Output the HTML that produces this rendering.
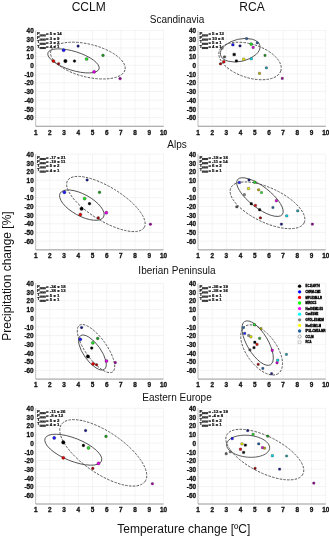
<!DOCTYPE html><html><head><meta charset="utf-8"><style>html,body{margin:0;padding:0;background:#fff;width:329px;height:537px;overflow:hidden}svg{display:block;will-change:transform}</style></head><body><svg width="329" height="537" viewBox="0 0 329 537">
<style>.tk{font-family:"Liberation Sans",sans-serif;font-weight:bold;font-size:6.4px;fill:#111;stroke:#111;stroke-width:0.3}.t12{font-family:"Liberation Sans",sans-serif;font-size:12px;fill:#111}.lg{font-family:"Liberation Sans",sans-serif;font-weight:bold;font-size:4.3px;fill:#111;stroke:#111;stroke-width:0.22}.lg3{font-family:"Liberation Sans",sans-serif;font-weight:bold;font-size:2.75px;fill:#000;stroke:#000;stroke-width:0.3}.lgs{font-family:"Liberation Sans",sans-serif;font-weight:bold;font-size:2.5px;fill:#111;stroke:#111;stroke-width:0.3}.t10{font-family:"Liberation Sans",sans-serif;font-size:10px;fill:#111}</style>
<rect width="329" height="537" fill="#fff"/>
<line x1="49.90" y1="30.56" x2="49.90" y2="126.26" stroke="#ececec" stroke-width="0.6"/>
<line x1="64.10" y1="30.56" x2="64.10" y2="126.26" stroke="#ececec" stroke-width="0.6"/>
<line x1="78.30" y1="30.56" x2="78.30" y2="126.26" stroke="#ececec" stroke-width="0.6"/>
<line x1="92.50" y1="30.56" x2="92.50" y2="126.26" stroke="#ececec" stroke-width="0.6"/>
<line x1="106.70" y1="30.56" x2="106.70" y2="126.26" stroke="#ececec" stroke-width="0.6"/>
<line x1="120.90" y1="30.56" x2="120.90" y2="126.26" stroke="#ececec" stroke-width="0.6"/>
<line x1="135.10" y1="30.56" x2="135.10" y2="126.26" stroke="#ececec" stroke-width="0.6"/>
<line x1="149.30" y1="30.56" x2="149.30" y2="126.26" stroke="#ececec" stroke-width="0.6"/>
<line x1="163.50" y1="30.56" x2="163.50" y2="126.26" stroke="#ececec" stroke-width="0.6"/>
<line x1="35.70" y1="30.56" x2="163.50" y2="30.56" stroke="#ececec" stroke-width="0.6"/>
<line x1="35.70" y1="39.26" x2="163.50" y2="39.26" stroke="#ececec" stroke-width="0.6"/>
<line x1="35.70" y1="47.96" x2="163.50" y2="47.96" stroke="#ececec" stroke-width="0.6"/>
<line x1="35.70" y1="56.66" x2="163.50" y2="56.66" stroke="#ececec" stroke-width="0.6"/>
<line x1="35.70" y1="65.36" x2="163.50" y2="65.36" stroke="#ececec" stroke-width="0.6"/>
<line x1="35.70" y1="74.06" x2="163.50" y2="74.06" stroke="#ececec" stroke-width="0.6"/>
<line x1="35.70" y1="82.76" x2="163.50" y2="82.76" stroke="#ececec" stroke-width="0.6"/>
<line x1="35.70" y1="91.46" x2="163.50" y2="91.46" stroke="#ececec" stroke-width="0.6"/>
<line x1="35.70" y1="100.16" x2="163.50" y2="100.16" stroke="#ececec" stroke-width="0.6"/>
<line x1="35.70" y1="108.86" x2="163.50" y2="108.86" stroke="#ececec" stroke-width="0.6"/>
<line x1="35.70" y1="117.56" x2="163.50" y2="117.56" stroke="#ececec" stroke-width="0.6"/>
<line x1="35.70" y1="30.56" x2="35.70" y2="126.26" stroke="#b8b8b8" stroke-width="0.9"/>
<line x1="35.70" y1="126.26" x2="163.50" y2="126.26" stroke="#8a8a8a" stroke-width="0.9"/>
<text x="33.70" y="33.26" text-anchor="end" class="tk">40</text>
<text x="33.70" y="41.96" text-anchor="end" class="tk">30</text>
<text x="33.70" y="50.66" text-anchor="end" class="tk">20</text>
<text x="33.70" y="59.36" text-anchor="end" class="tk">10</text>
<text x="33.70" y="68.06" text-anchor="end" class="tk">0</text>
<text x="33.70" y="76.76" text-anchor="end" class="tk">-10</text>
<text x="33.70" y="85.46" text-anchor="end" class="tk">-20</text>
<text x="33.70" y="94.16" text-anchor="end" class="tk">-30</text>
<text x="33.70" y="102.86" text-anchor="end" class="tk">-40</text>
<text x="33.70" y="111.56" text-anchor="end" class="tk">-50</text>
<text x="33.70" y="120.26" text-anchor="end" class="tk">-60</text>
<text x="35.70" y="134.66" text-anchor="middle" class="tk">1</text>
<text x="49.90" y="134.66" text-anchor="middle" class="tk">2</text>
<text x="64.10" y="134.66" text-anchor="middle" class="tk">3</text>
<text x="78.30" y="134.66" text-anchor="middle" class="tk">4</text>
<text x="92.50" y="134.66" text-anchor="middle" class="tk">5</text>
<text x="106.70" y="134.66" text-anchor="middle" class="tk">6</text>
<text x="120.90" y="134.66" text-anchor="middle" class="tk">7</text>
<text x="135.10" y="134.66" text-anchor="middle" class="tk">8</text>
<text x="149.30" y="134.66" text-anchor="middle" class="tk">9</text>
<text x="163.50" y="134.66" text-anchor="middle" class="tk">10</text>
<line x1="212.19" y1="30.56" x2="212.19" y2="126.26" stroke="#ececec" stroke-width="0.6"/>
<line x1="226.38" y1="30.56" x2="226.38" y2="126.26" stroke="#ececec" stroke-width="0.6"/>
<line x1="240.57" y1="30.56" x2="240.57" y2="126.26" stroke="#ececec" stroke-width="0.6"/>
<line x1="254.76" y1="30.56" x2="254.76" y2="126.26" stroke="#ececec" stroke-width="0.6"/>
<line x1="268.95" y1="30.56" x2="268.95" y2="126.26" stroke="#ececec" stroke-width="0.6"/>
<line x1="283.14" y1="30.56" x2="283.14" y2="126.26" stroke="#ececec" stroke-width="0.6"/>
<line x1="297.33" y1="30.56" x2="297.33" y2="126.26" stroke="#ececec" stroke-width="0.6"/>
<line x1="311.52" y1="30.56" x2="311.52" y2="126.26" stroke="#ececec" stroke-width="0.6"/>
<line x1="325.71" y1="30.56" x2="325.71" y2="126.26" stroke="#ececec" stroke-width="0.6"/>
<line x1="198.00" y1="30.56" x2="325.71" y2="30.56" stroke="#ececec" stroke-width="0.6"/>
<line x1="198.00" y1="39.26" x2="325.71" y2="39.26" stroke="#ececec" stroke-width="0.6"/>
<line x1="198.00" y1="47.96" x2="325.71" y2="47.96" stroke="#ececec" stroke-width="0.6"/>
<line x1="198.00" y1="56.66" x2="325.71" y2="56.66" stroke="#ececec" stroke-width="0.6"/>
<line x1="198.00" y1="65.36" x2="325.71" y2="65.36" stroke="#ececec" stroke-width="0.6"/>
<line x1="198.00" y1="74.06" x2="325.71" y2="74.06" stroke="#ececec" stroke-width="0.6"/>
<line x1="198.00" y1="82.76" x2="325.71" y2="82.76" stroke="#ececec" stroke-width="0.6"/>
<line x1="198.00" y1="91.46" x2="325.71" y2="91.46" stroke="#ececec" stroke-width="0.6"/>
<line x1="198.00" y1="100.16" x2="325.71" y2="100.16" stroke="#ececec" stroke-width="0.6"/>
<line x1="198.00" y1="108.86" x2="325.71" y2="108.86" stroke="#ececec" stroke-width="0.6"/>
<line x1="198.00" y1="117.56" x2="325.71" y2="117.56" stroke="#ececec" stroke-width="0.6"/>
<line x1="198.00" y1="30.56" x2="198.00" y2="126.26" stroke="#b8b8b8" stroke-width="0.9"/>
<line x1="198.00" y1="126.26" x2="325.71" y2="126.26" stroke="#8a8a8a" stroke-width="0.9"/>
<text x="196.00" y="33.26" text-anchor="end" class="tk">40</text>
<text x="196.00" y="41.96" text-anchor="end" class="tk">30</text>
<text x="196.00" y="50.66" text-anchor="end" class="tk">20</text>
<text x="196.00" y="59.36" text-anchor="end" class="tk">10</text>
<text x="196.00" y="68.06" text-anchor="end" class="tk">0</text>
<text x="196.00" y="76.76" text-anchor="end" class="tk">-10</text>
<text x="196.00" y="85.46" text-anchor="end" class="tk">-20</text>
<text x="196.00" y="94.16" text-anchor="end" class="tk">-30</text>
<text x="196.00" y="102.86" text-anchor="end" class="tk">-40</text>
<text x="196.00" y="111.56" text-anchor="end" class="tk">-50</text>
<text x="196.00" y="120.26" text-anchor="end" class="tk">-60</text>
<text x="198.00" y="134.66" text-anchor="middle" class="tk">1</text>
<text x="212.19" y="134.66" text-anchor="middle" class="tk">2</text>
<text x="226.38" y="134.66" text-anchor="middle" class="tk">3</text>
<text x="240.57" y="134.66" text-anchor="middle" class="tk">4</text>
<text x="254.76" y="134.66" text-anchor="middle" class="tk">5</text>
<text x="268.95" y="134.66" text-anchor="middle" class="tk">6</text>
<text x="283.14" y="134.66" text-anchor="middle" class="tk">7</text>
<text x="297.33" y="134.66" text-anchor="middle" class="tk">8</text>
<text x="311.52" y="134.66" text-anchor="middle" class="tk">9</text>
<text x="325.71" y="134.66" text-anchor="middle" class="tk">10</text>
<line x1="49.90" y1="154.16" x2="49.90" y2="249.86" stroke="#ececec" stroke-width="0.6"/>
<line x1="64.10" y1="154.16" x2="64.10" y2="249.86" stroke="#ececec" stroke-width="0.6"/>
<line x1="78.30" y1="154.16" x2="78.30" y2="249.86" stroke="#ececec" stroke-width="0.6"/>
<line x1="92.50" y1="154.16" x2="92.50" y2="249.86" stroke="#ececec" stroke-width="0.6"/>
<line x1="106.70" y1="154.16" x2="106.70" y2="249.86" stroke="#ececec" stroke-width="0.6"/>
<line x1="120.90" y1="154.16" x2="120.90" y2="249.86" stroke="#ececec" stroke-width="0.6"/>
<line x1="135.10" y1="154.16" x2="135.10" y2="249.86" stroke="#ececec" stroke-width="0.6"/>
<line x1="149.30" y1="154.16" x2="149.30" y2="249.86" stroke="#ececec" stroke-width="0.6"/>
<line x1="163.50" y1="154.16" x2="163.50" y2="249.86" stroke="#ececec" stroke-width="0.6"/>
<line x1="35.70" y1="154.16" x2="163.50" y2="154.16" stroke="#ececec" stroke-width="0.6"/>
<line x1="35.70" y1="162.86" x2="163.50" y2="162.86" stroke="#ececec" stroke-width="0.6"/>
<line x1="35.70" y1="171.56" x2="163.50" y2="171.56" stroke="#ececec" stroke-width="0.6"/>
<line x1="35.70" y1="180.26" x2="163.50" y2="180.26" stroke="#ececec" stroke-width="0.6"/>
<line x1="35.70" y1="188.96" x2="163.50" y2="188.96" stroke="#ececec" stroke-width="0.6"/>
<line x1="35.70" y1="197.66" x2="163.50" y2="197.66" stroke="#ececec" stroke-width="0.6"/>
<line x1="35.70" y1="206.36" x2="163.50" y2="206.36" stroke="#ececec" stroke-width="0.6"/>
<line x1="35.70" y1="215.06" x2="163.50" y2="215.06" stroke="#ececec" stroke-width="0.6"/>
<line x1="35.70" y1="223.76" x2="163.50" y2="223.76" stroke="#ececec" stroke-width="0.6"/>
<line x1="35.70" y1="232.46" x2="163.50" y2="232.46" stroke="#ececec" stroke-width="0.6"/>
<line x1="35.70" y1="241.16" x2="163.50" y2="241.16" stroke="#ececec" stroke-width="0.6"/>
<line x1="35.70" y1="154.16" x2="35.70" y2="249.86" stroke="#b8b8b8" stroke-width="0.9"/>
<line x1="35.70" y1="249.86" x2="163.50" y2="249.86" stroke="#8a8a8a" stroke-width="0.9"/>
<text x="33.70" y="156.86" text-anchor="end" class="tk">40</text>
<text x="33.70" y="165.56" text-anchor="end" class="tk">30</text>
<text x="33.70" y="174.26" text-anchor="end" class="tk">20</text>
<text x="33.70" y="182.96" text-anchor="end" class="tk">10</text>
<text x="33.70" y="191.66" text-anchor="end" class="tk">0</text>
<text x="33.70" y="200.36" text-anchor="end" class="tk">-10</text>
<text x="33.70" y="209.06" text-anchor="end" class="tk">-20</text>
<text x="33.70" y="217.76" text-anchor="end" class="tk">-30</text>
<text x="33.70" y="226.46" text-anchor="end" class="tk">-40</text>
<text x="33.70" y="235.16" text-anchor="end" class="tk">-50</text>
<text x="33.70" y="243.86" text-anchor="end" class="tk">-60</text>
<text x="35.70" y="258.26" text-anchor="middle" class="tk">1</text>
<text x="49.90" y="258.26" text-anchor="middle" class="tk">2</text>
<text x="64.10" y="258.26" text-anchor="middle" class="tk">3</text>
<text x="78.30" y="258.26" text-anchor="middle" class="tk">4</text>
<text x="92.50" y="258.26" text-anchor="middle" class="tk">5</text>
<text x="106.70" y="258.26" text-anchor="middle" class="tk">6</text>
<text x="120.90" y="258.26" text-anchor="middle" class="tk">7</text>
<text x="135.10" y="258.26" text-anchor="middle" class="tk">8</text>
<text x="149.30" y="258.26" text-anchor="middle" class="tk">9</text>
<text x="163.50" y="258.26" text-anchor="middle" class="tk">10</text>
<line x1="212.19" y1="154.16" x2="212.19" y2="249.86" stroke="#ececec" stroke-width="0.6"/>
<line x1="226.38" y1="154.16" x2="226.38" y2="249.86" stroke="#ececec" stroke-width="0.6"/>
<line x1="240.57" y1="154.16" x2="240.57" y2="249.86" stroke="#ececec" stroke-width="0.6"/>
<line x1="254.76" y1="154.16" x2="254.76" y2="249.86" stroke="#ececec" stroke-width="0.6"/>
<line x1="268.95" y1="154.16" x2="268.95" y2="249.86" stroke="#ececec" stroke-width="0.6"/>
<line x1="283.14" y1="154.16" x2="283.14" y2="249.86" stroke="#ececec" stroke-width="0.6"/>
<line x1="297.33" y1="154.16" x2="297.33" y2="249.86" stroke="#ececec" stroke-width="0.6"/>
<line x1="311.52" y1="154.16" x2="311.52" y2="249.86" stroke="#ececec" stroke-width="0.6"/>
<line x1="325.71" y1="154.16" x2="325.71" y2="249.86" stroke="#ececec" stroke-width="0.6"/>
<line x1="198.00" y1="154.16" x2="325.71" y2="154.16" stroke="#ececec" stroke-width="0.6"/>
<line x1="198.00" y1="162.86" x2="325.71" y2="162.86" stroke="#ececec" stroke-width="0.6"/>
<line x1="198.00" y1="171.56" x2="325.71" y2="171.56" stroke="#ececec" stroke-width="0.6"/>
<line x1="198.00" y1="180.26" x2="325.71" y2="180.26" stroke="#ececec" stroke-width="0.6"/>
<line x1="198.00" y1="188.96" x2="325.71" y2="188.96" stroke="#ececec" stroke-width="0.6"/>
<line x1="198.00" y1="197.66" x2="325.71" y2="197.66" stroke="#ececec" stroke-width="0.6"/>
<line x1="198.00" y1="206.36" x2="325.71" y2="206.36" stroke="#ececec" stroke-width="0.6"/>
<line x1="198.00" y1="215.06" x2="325.71" y2="215.06" stroke="#ececec" stroke-width="0.6"/>
<line x1="198.00" y1="223.76" x2="325.71" y2="223.76" stroke="#ececec" stroke-width="0.6"/>
<line x1="198.00" y1="232.46" x2="325.71" y2="232.46" stroke="#ececec" stroke-width="0.6"/>
<line x1="198.00" y1="241.16" x2="325.71" y2="241.16" stroke="#ececec" stroke-width="0.6"/>
<line x1="198.00" y1="154.16" x2="198.00" y2="249.86" stroke="#b8b8b8" stroke-width="0.9"/>
<line x1="198.00" y1="249.86" x2="325.71" y2="249.86" stroke="#8a8a8a" stroke-width="0.9"/>
<text x="196.00" y="156.86" text-anchor="end" class="tk">40</text>
<text x="196.00" y="165.56" text-anchor="end" class="tk">30</text>
<text x="196.00" y="174.26" text-anchor="end" class="tk">20</text>
<text x="196.00" y="182.96" text-anchor="end" class="tk">10</text>
<text x="196.00" y="191.66" text-anchor="end" class="tk">0</text>
<text x="196.00" y="200.36" text-anchor="end" class="tk">-10</text>
<text x="196.00" y="209.06" text-anchor="end" class="tk">-20</text>
<text x="196.00" y="217.76" text-anchor="end" class="tk">-30</text>
<text x="196.00" y="226.46" text-anchor="end" class="tk">-40</text>
<text x="196.00" y="235.16" text-anchor="end" class="tk">-50</text>
<text x="196.00" y="243.86" text-anchor="end" class="tk">-60</text>
<text x="198.00" y="258.26" text-anchor="middle" class="tk">1</text>
<text x="212.19" y="258.26" text-anchor="middle" class="tk">2</text>
<text x="226.38" y="258.26" text-anchor="middle" class="tk">3</text>
<text x="240.57" y="258.26" text-anchor="middle" class="tk">4</text>
<text x="254.76" y="258.26" text-anchor="middle" class="tk">5</text>
<text x="268.95" y="258.26" text-anchor="middle" class="tk">6</text>
<text x="283.14" y="258.26" text-anchor="middle" class="tk">7</text>
<text x="297.33" y="258.26" text-anchor="middle" class="tk">8</text>
<text x="311.52" y="258.26" text-anchor="middle" class="tk">9</text>
<text x="325.71" y="258.26" text-anchor="middle" class="tk">10</text>
<line x1="49.90" y1="283.38" x2="49.90" y2="379.08" stroke="#ececec" stroke-width="0.6"/>
<line x1="64.10" y1="283.38" x2="64.10" y2="379.08" stroke="#ececec" stroke-width="0.6"/>
<line x1="78.30" y1="283.38" x2="78.30" y2="379.08" stroke="#ececec" stroke-width="0.6"/>
<line x1="92.50" y1="283.38" x2="92.50" y2="379.08" stroke="#ececec" stroke-width="0.6"/>
<line x1="106.70" y1="283.38" x2="106.70" y2="379.08" stroke="#ececec" stroke-width="0.6"/>
<line x1="120.90" y1="283.38" x2="120.90" y2="379.08" stroke="#ececec" stroke-width="0.6"/>
<line x1="135.10" y1="283.38" x2="135.10" y2="379.08" stroke="#ececec" stroke-width="0.6"/>
<line x1="149.30" y1="283.38" x2="149.30" y2="379.08" stroke="#ececec" stroke-width="0.6"/>
<line x1="163.50" y1="283.38" x2="163.50" y2="379.08" stroke="#ececec" stroke-width="0.6"/>
<line x1="35.70" y1="283.38" x2="163.50" y2="283.38" stroke="#ececec" stroke-width="0.6"/>
<line x1="35.70" y1="292.08" x2="163.50" y2="292.08" stroke="#ececec" stroke-width="0.6"/>
<line x1="35.70" y1="300.78" x2="163.50" y2="300.78" stroke="#ececec" stroke-width="0.6"/>
<line x1="35.70" y1="309.48" x2="163.50" y2="309.48" stroke="#ececec" stroke-width="0.6"/>
<line x1="35.70" y1="318.18" x2="163.50" y2="318.18" stroke="#ececec" stroke-width="0.6"/>
<line x1="35.70" y1="326.88" x2="163.50" y2="326.88" stroke="#ececec" stroke-width="0.6"/>
<line x1="35.70" y1="335.58" x2="163.50" y2="335.58" stroke="#ececec" stroke-width="0.6"/>
<line x1="35.70" y1="344.28" x2="163.50" y2="344.28" stroke="#ececec" stroke-width="0.6"/>
<line x1="35.70" y1="352.98" x2="163.50" y2="352.98" stroke="#ececec" stroke-width="0.6"/>
<line x1="35.70" y1="361.68" x2="163.50" y2="361.68" stroke="#ececec" stroke-width="0.6"/>
<line x1="35.70" y1="370.38" x2="163.50" y2="370.38" stroke="#ececec" stroke-width="0.6"/>
<line x1="35.70" y1="283.38" x2="35.70" y2="379.08" stroke="#b8b8b8" stroke-width="0.9"/>
<line x1="35.70" y1="379.08" x2="163.50" y2="379.08" stroke="#8a8a8a" stroke-width="0.9"/>
<text x="33.70" y="286.08" text-anchor="end" class="tk">40</text>
<text x="33.70" y="294.78" text-anchor="end" class="tk">30</text>
<text x="33.70" y="303.48" text-anchor="end" class="tk">20</text>
<text x="33.70" y="312.18" text-anchor="end" class="tk">10</text>
<text x="33.70" y="320.88" text-anchor="end" class="tk">0</text>
<text x="33.70" y="329.58" text-anchor="end" class="tk">-10</text>
<text x="33.70" y="338.28" text-anchor="end" class="tk">-20</text>
<text x="33.70" y="346.98" text-anchor="end" class="tk">-30</text>
<text x="33.70" y="355.68" text-anchor="end" class="tk">-40</text>
<text x="33.70" y="364.38" text-anchor="end" class="tk">-50</text>
<text x="33.70" y="373.08" text-anchor="end" class="tk">-60</text>
<text x="35.70" y="387.48" text-anchor="middle" class="tk">1</text>
<text x="49.90" y="387.48" text-anchor="middle" class="tk">2</text>
<text x="64.10" y="387.48" text-anchor="middle" class="tk">3</text>
<text x="78.30" y="387.48" text-anchor="middle" class="tk">4</text>
<text x="92.50" y="387.48" text-anchor="middle" class="tk">5</text>
<text x="106.70" y="387.48" text-anchor="middle" class="tk">6</text>
<text x="120.90" y="387.48" text-anchor="middle" class="tk">7</text>
<text x="135.10" y="387.48" text-anchor="middle" class="tk">8</text>
<text x="149.30" y="387.48" text-anchor="middle" class="tk">9</text>
<text x="163.50" y="387.48" text-anchor="middle" class="tk">10</text>
<line x1="212.19" y1="283.38" x2="212.19" y2="379.08" stroke="#ececec" stroke-width="0.6"/>
<line x1="226.38" y1="283.38" x2="226.38" y2="379.08" stroke="#ececec" stroke-width="0.6"/>
<line x1="240.57" y1="283.38" x2="240.57" y2="379.08" stroke="#ececec" stroke-width="0.6"/>
<line x1="254.76" y1="283.38" x2="254.76" y2="379.08" stroke="#ececec" stroke-width="0.6"/>
<line x1="268.95" y1="283.38" x2="268.95" y2="379.08" stroke="#ececec" stroke-width="0.6"/>
<line x1="283.14" y1="283.38" x2="283.14" y2="379.08" stroke="#ececec" stroke-width="0.6"/>
<line x1="297.33" y1="283.38" x2="297.33" y2="379.08" stroke="#ececec" stroke-width="0.6"/>
<line x1="311.52" y1="283.38" x2="311.52" y2="379.08" stroke="#ececec" stroke-width="0.6"/>
<line x1="325.71" y1="283.38" x2="325.71" y2="379.08" stroke="#ececec" stroke-width="0.6"/>
<line x1="198.00" y1="283.38" x2="325.71" y2="283.38" stroke="#ececec" stroke-width="0.6"/>
<line x1="198.00" y1="292.08" x2="325.71" y2="292.08" stroke="#ececec" stroke-width="0.6"/>
<line x1="198.00" y1="300.78" x2="325.71" y2="300.78" stroke="#ececec" stroke-width="0.6"/>
<line x1="198.00" y1="309.48" x2="325.71" y2="309.48" stroke="#ececec" stroke-width="0.6"/>
<line x1="198.00" y1="318.18" x2="325.71" y2="318.18" stroke="#ececec" stroke-width="0.6"/>
<line x1="198.00" y1="326.88" x2="325.71" y2="326.88" stroke="#ececec" stroke-width="0.6"/>
<line x1="198.00" y1="335.58" x2="325.71" y2="335.58" stroke="#ececec" stroke-width="0.6"/>
<line x1="198.00" y1="344.28" x2="325.71" y2="344.28" stroke="#ececec" stroke-width="0.6"/>
<line x1="198.00" y1="352.98" x2="325.71" y2="352.98" stroke="#ececec" stroke-width="0.6"/>
<line x1="198.00" y1="361.68" x2="325.71" y2="361.68" stroke="#ececec" stroke-width="0.6"/>
<line x1="198.00" y1="370.38" x2="325.71" y2="370.38" stroke="#ececec" stroke-width="0.6"/>
<line x1="198.00" y1="283.38" x2="198.00" y2="379.08" stroke="#b8b8b8" stroke-width="0.9"/>
<line x1="198.00" y1="379.08" x2="325.71" y2="379.08" stroke="#8a8a8a" stroke-width="0.9"/>
<text x="196.00" y="286.08" text-anchor="end" class="tk">40</text>
<text x="196.00" y="294.78" text-anchor="end" class="tk">30</text>
<text x="196.00" y="303.48" text-anchor="end" class="tk">20</text>
<text x="196.00" y="312.18" text-anchor="end" class="tk">10</text>
<text x="196.00" y="320.88" text-anchor="end" class="tk">0</text>
<text x="196.00" y="329.58" text-anchor="end" class="tk">-10</text>
<text x="196.00" y="338.28" text-anchor="end" class="tk">-20</text>
<text x="196.00" y="346.98" text-anchor="end" class="tk">-30</text>
<text x="196.00" y="355.68" text-anchor="end" class="tk">-40</text>
<text x="196.00" y="364.38" text-anchor="end" class="tk">-50</text>
<text x="196.00" y="373.08" text-anchor="end" class="tk">-60</text>
<text x="198.00" y="387.48" text-anchor="middle" class="tk">1</text>
<text x="212.19" y="387.48" text-anchor="middle" class="tk">2</text>
<text x="226.38" y="387.48" text-anchor="middle" class="tk">3</text>
<text x="240.57" y="387.48" text-anchor="middle" class="tk">4</text>
<text x="254.76" y="387.48" text-anchor="middle" class="tk">5</text>
<text x="268.95" y="387.48" text-anchor="middle" class="tk">6</text>
<text x="283.14" y="387.48" text-anchor="middle" class="tk">7</text>
<text x="297.33" y="387.48" text-anchor="middle" class="tk">8</text>
<text x="311.52" y="387.48" text-anchor="middle" class="tk">9</text>
<text x="325.71" y="387.48" text-anchor="middle" class="tk">10</text>
<line x1="49.90" y1="408.30" x2="49.90" y2="504.00" stroke="#ececec" stroke-width="0.6"/>
<line x1="64.10" y1="408.30" x2="64.10" y2="504.00" stroke="#ececec" stroke-width="0.6"/>
<line x1="78.30" y1="408.30" x2="78.30" y2="504.00" stroke="#ececec" stroke-width="0.6"/>
<line x1="92.50" y1="408.30" x2="92.50" y2="504.00" stroke="#ececec" stroke-width="0.6"/>
<line x1="106.70" y1="408.30" x2="106.70" y2="504.00" stroke="#ececec" stroke-width="0.6"/>
<line x1="120.90" y1="408.30" x2="120.90" y2="504.00" stroke="#ececec" stroke-width="0.6"/>
<line x1="135.10" y1="408.30" x2="135.10" y2="504.00" stroke="#ececec" stroke-width="0.6"/>
<line x1="149.30" y1="408.30" x2="149.30" y2="504.00" stroke="#ececec" stroke-width="0.6"/>
<line x1="163.50" y1="408.30" x2="163.50" y2="504.00" stroke="#ececec" stroke-width="0.6"/>
<line x1="35.70" y1="408.30" x2="163.50" y2="408.30" stroke="#ececec" stroke-width="0.6"/>
<line x1="35.70" y1="417.00" x2="163.50" y2="417.00" stroke="#ececec" stroke-width="0.6"/>
<line x1="35.70" y1="425.70" x2="163.50" y2="425.70" stroke="#ececec" stroke-width="0.6"/>
<line x1="35.70" y1="434.40" x2="163.50" y2="434.40" stroke="#ececec" stroke-width="0.6"/>
<line x1="35.70" y1="443.10" x2="163.50" y2="443.10" stroke="#ececec" stroke-width="0.6"/>
<line x1="35.70" y1="451.80" x2="163.50" y2="451.80" stroke="#ececec" stroke-width="0.6"/>
<line x1="35.70" y1="460.50" x2="163.50" y2="460.50" stroke="#ececec" stroke-width="0.6"/>
<line x1="35.70" y1="469.20" x2="163.50" y2="469.20" stroke="#ececec" stroke-width="0.6"/>
<line x1="35.70" y1="477.90" x2="163.50" y2="477.90" stroke="#ececec" stroke-width="0.6"/>
<line x1="35.70" y1="486.60" x2="163.50" y2="486.60" stroke="#ececec" stroke-width="0.6"/>
<line x1="35.70" y1="495.30" x2="163.50" y2="495.30" stroke="#ececec" stroke-width="0.6"/>
<line x1="35.70" y1="408.30" x2="35.70" y2="504.00" stroke="#b8b8b8" stroke-width="0.9"/>
<line x1="35.70" y1="504.00" x2="163.50" y2="504.00" stroke="#8a8a8a" stroke-width="0.9"/>
<text x="33.70" y="411.00" text-anchor="end" class="tk">40</text>
<text x="33.70" y="419.70" text-anchor="end" class="tk">30</text>
<text x="33.70" y="428.40" text-anchor="end" class="tk">20</text>
<text x="33.70" y="437.10" text-anchor="end" class="tk">10</text>
<text x="33.70" y="445.80" text-anchor="end" class="tk">0</text>
<text x="33.70" y="454.50" text-anchor="end" class="tk">-10</text>
<text x="33.70" y="463.20" text-anchor="end" class="tk">-20</text>
<text x="33.70" y="471.90" text-anchor="end" class="tk">-30</text>
<text x="33.70" y="480.60" text-anchor="end" class="tk">-40</text>
<text x="33.70" y="489.30" text-anchor="end" class="tk">-50</text>
<text x="33.70" y="498.00" text-anchor="end" class="tk">-60</text>
<text x="35.70" y="512.40" text-anchor="middle" class="tk">1</text>
<text x="49.90" y="512.40" text-anchor="middle" class="tk">2</text>
<text x="64.10" y="512.40" text-anchor="middle" class="tk">3</text>
<text x="78.30" y="512.40" text-anchor="middle" class="tk">4</text>
<text x="92.50" y="512.40" text-anchor="middle" class="tk">5</text>
<text x="106.70" y="512.40" text-anchor="middle" class="tk">6</text>
<text x="120.90" y="512.40" text-anchor="middle" class="tk">7</text>
<text x="135.10" y="512.40" text-anchor="middle" class="tk">8</text>
<text x="149.30" y="512.40" text-anchor="middle" class="tk">9</text>
<text x="163.50" y="512.40" text-anchor="middle" class="tk">10</text>
<line x1="212.19" y1="408.30" x2="212.19" y2="504.00" stroke="#ececec" stroke-width="0.6"/>
<line x1="226.38" y1="408.30" x2="226.38" y2="504.00" stroke="#ececec" stroke-width="0.6"/>
<line x1="240.57" y1="408.30" x2="240.57" y2="504.00" stroke="#ececec" stroke-width="0.6"/>
<line x1="254.76" y1="408.30" x2="254.76" y2="504.00" stroke="#ececec" stroke-width="0.6"/>
<line x1="268.95" y1="408.30" x2="268.95" y2="504.00" stroke="#ececec" stroke-width="0.6"/>
<line x1="283.14" y1="408.30" x2="283.14" y2="504.00" stroke="#ececec" stroke-width="0.6"/>
<line x1="297.33" y1="408.30" x2="297.33" y2="504.00" stroke="#ececec" stroke-width="0.6"/>
<line x1="311.52" y1="408.30" x2="311.52" y2="504.00" stroke="#ececec" stroke-width="0.6"/>
<line x1="325.71" y1="408.30" x2="325.71" y2="504.00" stroke="#ececec" stroke-width="0.6"/>
<line x1="198.00" y1="408.30" x2="325.71" y2="408.30" stroke="#ececec" stroke-width="0.6"/>
<line x1="198.00" y1="417.00" x2="325.71" y2="417.00" stroke="#ececec" stroke-width="0.6"/>
<line x1="198.00" y1="425.70" x2="325.71" y2="425.70" stroke="#ececec" stroke-width="0.6"/>
<line x1="198.00" y1="434.40" x2="325.71" y2="434.40" stroke="#ececec" stroke-width="0.6"/>
<line x1="198.00" y1="443.10" x2="325.71" y2="443.10" stroke="#ececec" stroke-width="0.6"/>
<line x1="198.00" y1="451.80" x2="325.71" y2="451.80" stroke="#ececec" stroke-width="0.6"/>
<line x1="198.00" y1="460.50" x2="325.71" y2="460.50" stroke="#ececec" stroke-width="0.6"/>
<line x1="198.00" y1="469.20" x2="325.71" y2="469.20" stroke="#ececec" stroke-width="0.6"/>
<line x1="198.00" y1="477.90" x2="325.71" y2="477.90" stroke="#ececec" stroke-width="0.6"/>
<line x1="198.00" y1="486.60" x2="325.71" y2="486.60" stroke="#ececec" stroke-width="0.6"/>
<line x1="198.00" y1="495.30" x2="325.71" y2="495.30" stroke="#ececec" stroke-width="0.6"/>
<line x1="198.00" y1="408.30" x2="198.00" y2="504.00" stroke="#b8b8b8" stroke-width="0.9"/>
<line x1="198.00" y1="504.00" x2="325.71" y2="504.00" stroke="#8a8a8a" stroke-width="0.9"/>
<text x="196.00" y="411.00" text-anchor="end" class="tk">40</text>
<text x="196.00" y="419.70" text-anchor="end" class="tk">30</text>
<text x="196.00" y="428.40" text-anchor="end" class="tk">20</text>
<text x="196.00" y="437.10" text-anchor="end" class="tk">10</text>
<text x="196.00" y="445.80" text-anchor="end" class="tk">0</text>
<text x="196.00" y="454.50" text-anchor="end" class="tk">-10</text>
<text x="196.00" y="463.20" text-anchor="end" class="tk">-20</text>
<text x="196.00" y="471.90" text-anchor="end" class="tk">-30</text>
<text x="196.00" y="480.60" text-anchor="end" class="tk">-40</text>
<text x="196.00" y="489.30" text-anchor="end" class="tk">-50</text>
<text x="196.00" y="498.00" text-anchor="end" class="tk">-60</text>
<text x="198.00" y="512.40" text-anchor="middle" class="tk">1</text>
<text x="212.19" y="512.40" text-anchor="middle" class="tk">2</text>
<text x="226.38" y="512.40" text-anchor="middle" class="tk">3</text>
<text x="240.57" y="512.40" text-anchor="middle" class="tk">4</text>
<text x="254.76" y="512.40" text-anchor="middle" class="tk">5</text>
<text x="268.95" y="512.40" text-anchor="middle" class="tk">6</text>
<text x="283.14" y="512.40" text-anchor="middle" class="tk">7</text>
<text x="297.33" y="512.40" text-anchor="middle" class="tk">8</text>
<text x="311.52" y="512.40" text-anchor="middle" class="tk">9</text>
<text x="325.71" y="512.40" text-anchor="middle" class="tk">10</text>
<ellipse cx="73.48" cy="60.91" rx="26.81" ry="9.44" transform="rotate(17.4 73.48 60.91)" fill="none" stroke="#4a4a4a" stroke-width="0.85"/>
<ellipse cx="87.86" cy="60.58" rx="38.25" ry="16.38" transform="rotate(14.03 87.86 60.58)" fill="none" stroke="#4f4f4f" stroke-width="0.85" stroke-dasharray="2.5 1.3"/>
<circle cx="63.6" cy="50.2" r="1.6" fill="#1a1aff" stroke="#222" stroke-width="0.3"/>
<circle cx="78.1" cy="46.1" r="1.3" fill="#1a1a8a" stroke="#222" stroke-width="0.3"/>
<circle cx="86.6" cy="59.0" r="1.6" fill="#22dd22" stroke="#222" stroke-width="0.3"/>
<circle cx="103.0" cy="55.4" r="1.4" fill="#1f9a1f" stroke="#222" stroke-width="0.3"/>
<circle cx="53.4" cy="61.0" r="1.6" fill="#e00000" stroke="#222" stroke-width="0.3"/>
<circle cx="58.6" cy="63.7" r="1.3" fill="#a00000" stroke="#222" stroke-width="0.3"/>
<circle cx="65.4" cy="61.1" r="1.8" fill="#000" stroke="#222" stroke-width="0.3"/>
<circle cx="74.5" cy="61.1" r="1.4" fill="#000" stroke="#222" stroke-width="0.3"/>
<circle cx="94.1" cy="71.8" r="1.6" fill="#e000e0" stroke="#222" stroke-width="0.3"/>
<circle cx="120.1" cy="78.6" r="1.4" fill="#9a009a" stroke="#222" stroke-width="0.3"/>
<text x="37.10" y="35.06" class="lg">P</text>
<rect x="39.60" y="34.36" width="6.2" height="2.1" fill="#2a2a2a"/>
<rect x="40.40" y="34.96" width="0.8" height="0.9" fill="#777"/>
<rect x="42.40" y="34.96" width="0.8" height="0.9" fill="#777"/>
<rect x="44.40" y="34.96" width="0.8" height="0.9" fill="#777"/>
<text x="46.10" y="35.36" class="lg">= 5 ± 14</text>
<text x="37.10" y="39.26" class="lg">P</text>
<rect x="39.60" y="38.56" width="6.2" height="2.1" fill="#2a2a2a"/>
<rect x="40.40" y="39.16" width="0.8" height="0.9" fill="#777"/>
<rect x="42.40" y="39.16" width="0.8" height="0.9" fill="#777"/>
<rect x="44.40" y="39.16" width="0.8" height="0.9" fill="#777"/>
<text x="46.10" y="39.56" class="lg">= 3 ± 9</text>
<text x="37.10" y="43.46" class="lg">T</text>
<rect x="39.60" y="42.76" width="6.2" height="2.1" fill="#2a2a2a"/>
<rect x="40.40" y="43.36" width="0.8" height="0.9" fill="#777"/>
<rect x="42.40" y="43.36" width="0.8" height="0.9" fill="#777"/>
<rect x="44.40" y="43.36" width="0.8" height="0.9" fill="#777"/>
<text x="46.10" y="43.76" class="lg">= 3 ± 2</text>
<text x="37.10" y="47.66" class="lg">T</text>
<rect x="39.60" y="46.96" width="6.2" height="2.1" fill="#2a2a2a"/>
<rect x="40.40" y="47.56" width="0.8" height="0.9" fill="#777"/>
<rect x="42.40" y="47.56" width="0.8" height="0.9" fill="#777"/>
<rect x="44.40" y="47.56" width="0.8" height="0.9" fill="#777"/>
<text x="46.10" y="47.96" class="lg">= 4 ± 1</text>
<ellipse cx="240.17" cy="50.22" rx="20.22" ry="11.17" transform="rotate(-13.28 240.17 50.22)" fill="none" stroke="#4a4a4a" stroke-width="0.85"/>
<ellipse cx="250.02" cy="60.98" rx="32.34" ry="16.76" transform="rotate(17.73 250.02 60.98)" fill="none" stroke="#4f4f4f" stroke-width="0.85" stroke-dasharray="2.5 1.3"/>
<rect x="245.50" y="37.50" width="2.21" height="2.21" rx="0.5" fill="#1f5f9f" stroke="#222" stroke-width="0.35"/>
<rect x="231.62" y="43.43" width="2.55" height="2.55" rx="0.5" fill="#1a1aff" stroke="#222" stroke-width="0.35"/>
<rect x="238.90" y="44.80" width="2.21" height="2.21" rx="0.5" fill="#1a1a8a" stroke="#222" stroke-width="0.35"/>
<rect x="249.82" y="42.83" width="2.55" height="2.55" rx="0.5" fill="#22dd22" stroke="#222" stroke-width="0.35"/>
<rect x="251.91" y="46.21" width="2.38" height="2.38" rx="0.5" fill="#e000e0" stroke="#222" stroke-width="0.35"/>
<rect x="256.19" y="41.70" width="2.21" height="2.21" rx="0.5" fill="#1f5f9f" stroke="#222" stroke-width="0.35"/>
<rect x="220.81" y="46.91" width="2.38" height="2.38" rx="0.5" fill="#808080" stroke="#222" stroke-width="0.35"/>
<rect x="232.84" y="53.14" width="2.72" height="2.72" rx="0.5" fill="#000" stroke="#222" stroke-width="0.35"/>
<rect x="223.40" y="55.80" width="2.21" height="2.21" rx="0.5" fill="#555555" stroke="#222" stroke-width="0.35"/>
<rect x="235.21" y="59.71" width="2.38" height="2.38" rx="0.5" fill="#000" stroke="#222" stroke-width="0.35"/>
<rect x="242.42" y="58.02" width="2.55" height="2.55" rx="0.5" fill="#f0f000" stroke="#222" stroke-width="0.35"/>
<rect x="250.11" y="57.51" width="2.38" height="2.38" rx="0.5" fill="#00e0f0" stroke="#222" stroke-width="0.35"/>
<rect x="222.53" y="60.52" width="2.55" height="2.55" rx="0.5" fill="#e00000" stroke="#222" stroke-width="0.35"/>
<rect x="219.40" y="62.70" width="2.21" height="2.21" rx="0.5" fill="#a00000" stroke="#222" stroke-width="0.35"/>
<rect x="263.89" y="54.30" width="2.21" height="2.21" rx="0.5" fill="#1f9a1f" stroke="#222" stroke-width="0.35"/>
<rect x="265.29" y="66.69" width="2.21" height="2.21" rx="0.5" fill="#20a0b0" stroke="#222" stroke-width="0.35"/>
<rect x="258.39" y="72.19" width="2.21" height="2.21" rx="0.5" fill="#c0b000" stroke="#222" stroke-width="0.35"/>
<rect x="281.19" y="77.30" width="2.21" height="2.21" rx="0.5" fill="#9a009a" stroke="#222" stroke-width="0.35"/>
<text x="199.40" y="35.06" class="lg">P</text>
<rect x="201.90" y="34.36" width="6.2" height="2.1" fill="#2a2a2a"/>
<rect x="202.70" y="34.96" width="0.8" height="0.9" fill="#777"/>
<rect x="204.70" y="34.96" width="0.8" height="0.9" fill="#777"/>
<rect x="206.70" y="34.96" width="0.8" height="0.9" fill="#777"/>
<text x="208.40" y="35.36" class="lg">= 5 ± 13</text>
<text x="199.40" y="39.26" class="lg">P</text>
<rect x="201.90" y="38.56" width="6.2" height="2.1" fill="#2a2a2a"/>
<rect x="202.70" y="39.16" width="0.8" height="0.9" fill="#777"/>
<rect x="204.70" y="39.16" width="0.8" height="0.9" fill="#777"/>
<rect x="206.70" y="39.16" width="0.8" height="0.9" fill="#777"/>
<text x="208.40" y="39.56" class="lg">= 10 ± 8</text>
<text x="199.40" y="43.46" class="lg">T</text>
<rect x="201.90" y="42.76" width="6.2" height="2.1" fill="#2a2a2a"/>
<rect x="202.70" y="43.36" width="0.8" height="0.9" fill="#777"/>
<rect x="204.70" y="43.36" width="0.8" height="0.9" fill="#777"/>
<rect x="206.70" y="43.36" width="0.8" height="0.9" fill="#777"/>
<text x="208.40" y="43.76" class="lg">= 5 ± 1</text>
<text x="199.40" y="47.66" class="lg">T</text>
<rect x="201.90" y="46.96" width="6.2" height="2.1" fill="#2a2a2a"/>
<rect x="202.70" y="47.56" width="0.8" height="0.9" fill="#777"/>
<rect x="204.70" y="47.56" width="0.8" height="0.9" fill="#777"/>
<rect x="206.70" y="47.56" width="0.8" height="0.9" fill="#777"/>
<text x="208.40" y="47.96" class="lg">= 4 ± 1</text>
<ellipse cx="81.85" cy="205.13" rx="24.73" ry="10.76" transform="rotate(28.69 81.85 205.13)" fill="none" stroke="#4a4a4a" stroke-width="0.85"/>
<ellipse cx="105.89" cy="203.99" rx="44.92" ry="16.88" transform="rotate(31.6 105.89 203.99)" fill="none" stroke="#4f4f4f" stroke-width="0.85" stroke-dasharray="2.5 1.3"/>
<circle cx="64.4" cy="192.3" r="1.6" fill="#1a1aff" stroke="#222" stroke-width="0.3"/>
<circle cx="87.1" cy="180.0" r="1.3" fill="#1a1a8a" stroke="#222" stroke-width="0.3"/>
<circle cx="84.6" cy="198.6" r="1.6" fill="#22dd22" stroke="#222" stroke-width="0.3"/>
<circle cx="99.5" cy="192.3" r="1.4" fill="#1f9a1f" stroke="#222" stroke-width="0.3"/>
<circle cx="81.6" cy="208.8" r="1.8" fill="#000" stroke="#222" stroke-width="0.3"/>
<circle cx="89.5" cy="203.7" r="1.4" fill="#000" stroke="#222" stroke-width="0.3"/>
<circle cx="80.4" cy="214.5" r="1.6" fill="#e00000" stroke="#222" stroke-width="0.3"/>
<circle cx="98.3" cy="217.9" r="1.3" fill="#a00000" stroke="#222" stroke-width="0.3"/>
<circle cx="106.3" cy="212.7" r="1.6" fill="#e000e0" stroke="#222" stroke-width="0.3"/>
<circle cx="150.4" cy="224.2" r="1.3" fill="#9a009a" stroke="#222" stroke-width="0.3"/>
<text x="37.10" y="158.66" class="lg">P</text>
<rect x="39.60" y="157.96" width="6.2" height="2.1" fill="#2a2a2a"/>
<rect x="40.40" y="158.56" width="0.8" height="0.9" fill="#777"/>
<rect x="42.40" y="158.56" width="0.8" height="0.9" fill="#777"/>
<rect x="44.40" y="158.56" width="0.8" height="0.9" fill="#777"/>
<text x="46.10" y="158.96" class="lg">= -17 ± 21</text>
<text x="37.10" y="162.86" class="lg">P</text>
<rect x="39.60" y="162.16" width="6.2" height="2.1" fill="#2a2a2a"/>
<rect x="40.40" y="162.76" width="0.8" height="0.9" fill="#777"/>
<rect x="42.40" y="162.76" width="0.8" height="0.9" fill="#777"/>
<rect x="44.40" y="162.76" width="0.8" height="0.9" fill="#777"/>
<text x="46.10" y="163.16" class="lg">= -19 ± 11</text>
<text x="37.10" y="167.06" class="lg">T</text>
<rect x="39.60" y="166.36" width="6.2" height="2.1" fill="#2a2a2a"/>
<rect x="40.40" y="166.96" width="0.8" height="0.9" fill="#777"/>
<rect x="42.40" y="166.96" width="0.8" height="0.9" fill="#777"/>
<rect x="44.40" y="166.96" width="0.8" height="0.9" fill="#777"/>
<text x="46.10" y="167.36" class="lg">= 5 ± 2</text>
<text x="37.10" y="171.26" class="lg">T</text>
<rect x="39.60" y="170.56" width="6.2" height="2.1" fill="#2a2a2a"/>
<rect x="40.40" y="171.16" width="0.8" height="0.9" fill="#777"/>
<rect x="42.40" y="171.16" width="0.8" height="0.9" fill="#777"/>
<rect x="44.40" y="171.16" width="0.8" height="0.9" fill="#777"/>
<text x="46.10" y="171.56" class="lg">= 4 ± 1</text>
<ellipse cx="259.93" cy="197.09" rx="28.4" ry="10.58" transform="rotate(38.0 259.93 197.09)" fill="none" stroke="#4a4a4a" stroke-width="0.85"/>
<ellipse cx="267.5" cy="205.3" rx="40.6" ry="17.2" transform="rotate(25.5 267.5 205.3)" fill="none" stroke="#4f4f4f" stroke-width="0.85" stroke-dasharray="2.5 1.3"/>
<rect x="238.21" y="181.31" width="2.38" height="2.38" rx="0.5" fill="#1a1aff" stroke="#222" stroke-width="0.35"/>
<rect x="247.90" y="178.90" width="2.21" height="2.21" rx="0.5" fill="#1a1a8a" stroke="#222" stroke-width="0.35"/>
<rect x="253.61" y="181.01" width="2.38" height="2.38" rx="0.5" fill="#22dd22" stroke="#222" stroke-width="0.35"/>
<rect x="247.31" y="187.31" width="2.38" height="2.38" rx="0.5" fill="#f0f000" stroke="#222" stroke-width="0.35"/>
<rect x="257.50" y="188.70" width="2.21" height="2.21" rx="0.5" fill="#c0b000" stroke="#222" stroke-width="0.35"/>
<rect x="260.39" y="191.40" width="2.21" height="2.21" rx="0.5" fill="#22dd22" stroke="#222" stroke-width="0.35"/>
<rect x="243.30" y="193.50" width="2.21" height="2.21" rx="0.5" fill="#808080" stroke="#222" stroke-width="0.35"/>
<rect x="275.21" y="199.51" width="2.38" height="2.38" rx="0.5" fill="#e000e0" stroke="#222" stroke-width="0.35"/>
<rect x="250.11" y="202.51" width="2.38" height="2.38" rx="0.5" fill="#000" stroke="#222" stroke-width="0.35"/>
<rect x="254.21" y="204.21" width="2.38" height="2.38" rx="0.5" fill="#e00000" stroke="#222" stroke-width="0.35"/>
<rect x="235.70" y="205.70" width="2.21" height="2.21" rx="0.5" fill="#555555" stroke="#222" stroke-width="0.35"/>
<rect x="271.79" y="206.40" width="2.21" height="2.21" rx="0.5" fill="#1f5f9f" stroke="#222" stroke-width="0.35"/>
<rect x="258.41" y="208.61" width="2.38" height="2.38" rx="0.5" fill="#000" stroke="#222" stroke-width="0.35"/>
<rect x="259.29" y="216.80" width="2.21" height="2.21" rx="0.5" fill="#a00000" stroke="#222" stroke-width="0.35"/>
<rect x="296.59" y="209.70" width="2.21" height="2.21" rx="0.5" fill="#20a0b0" stroke="#222" stroke-width="0.35"/>
<rect x="285.51" y="214.71" width="2.38" height="2.38" rx="0.5" fill="#00e0f0" stroke="#222" stroke-width="0.35"/>
<rect x="280.29" y="223.09" width="2.21" height="2.21" rx="0.5" fill="#1a1a8a" stroke="#222" stroke-width="0.35"/>
<rect x="311.29" y="223.09" width="2.21" height="2.21" rx="0.5" fill="#9a009a" stroke="#222" stroke-width="0.35"/>
<text x="199.40" y="158.66" class="lg">P</text>
<rect x="201.90" y="157.96" width="6.2" height="2.1" fill="#2a2a2a"/>
<rect x="202.70" y="158.56" width="0.8" height="0.9" fill="#777"/>
<rect x="204.70" y="158.56" width="0.8" height="0.9" fill="#777"/>
<rect x="206.70" y="158.56" width="0.8" height="0.9" fill="#777"/>
<text x="208.40" y="158.96" class="lg">= -18 ± 18</text>
<text x="199.40" y="162.86" class="lg">P</text>
<rect x="201.90" y="162.16" width="6.2" height="2.1" fill="#2a2a2a"/>
<rect x="202.70" y="162.76" width="0.8" height="0.9" fill="#777"/>
<rect x="204.70" y="162.76" width="0.8" height="0.9" fill="#777"/>
<rect x="206.70" y="162.76" width="0.8" height="0.9" fill="#777"/>
<text x="208.40" y="163.16" class="lg">= -11 ± 14</text>
<text x="199.40" y="167.06" class="lg">T</text>
<rect x="201.90" y="166.36" width="6.2" height="2.1" fill="#2a2a2a"/>
<rect x="202.70" y="166.96" width="0.8" height="0.9" fill="#777"/>
<rect x="204.70" y="166.96" width="0.8" height="0.9" fill="#777"/>
<rect x="206.70" y="166.96" width="0.8" height="0.9" fill="#777"/>
<text x="208.40" y="167.36" class="lg">= 6 ± 2</text>
<text x="199.40" y="171.26" class="lg">T</text>
<rect x="201.90" y="170.56" width="6.2" height="2.1" fill="#2a2a2a"/>
<rect x="202.70" y="171.16" width="0.8" height="0.9" fill="#777"/>
<rect x="204.70" y="171.16" width="0.8" height="0.9" fill="#777"/>
<rect x="206.70" y="171.16" width="0.8" height="0.9" fill="#777"/>
<text x="208.40" y="171.56" class="lg">= 5 ± 1</text>
<ellipse cx="92.4" cy="352.5" rx="20.6" ry="8.6" transform="rotate(54.5 92.4 352.5)" fill="none" stroke="#4a4a4a" stroke-width="0.85"/>
<ellipse cx="96.0" cy="348.6" rx="28.6" ry="10.6" transform="rotate(54.5 96.0 348.6)" fill="none" stroke="#4f4f4f" stroke-width="0.85" stroke-dasharray="2.5 1.3"/>
<circle cx="81.6" cy="327.6" r="1.3" fill="#1a1a8a" stroke="#222" stroke-width="0.3"/>
<circle cx="80.3" cy="339.3" r="1.6" fill="#1a1aff" stroke="#222" stroke-width="0.3"/>
<circle cx="97.7" cy="338.5" r="1.4" fill="#1f9a1f" stroke="#222" stroke-width="0.3"/>
<circle cx="92.8" cy="342.8" r="1.6" fill="#22dd22" stroke="#222" stroke-width="0.3"/>
<circle cx="91.7" cy="348.1" r="1.4" fill="#000" stroke="#222" stroke-width="0.3"/>
<circle cx="87.9" cy="356.5" r="1.8" fill="#000" stroke="#222" stroke-width="0.3"/>
<circle cx="106.5" cy="361.0" r="1.6" fill="#e000e0" stroke="#222" stroke-width="0.3"/>
<circle cx="115.3" cy="362.6" r="1.3" fill="#9a009a" stroke="#222" stroke-width="0.3"/>
<circle cx="93.1" cy="363.8" r="1.6" fill="#e00000" stroke="#222" stroke-width="0.3"/>
<circle cx="96.6" cy="364.8" r="1.3" fill="#a00000" stroke="#222" stroke-width="0.3"/>
<text x="37.10" y="287.88" class="lg">P</text>
<rect x="39.60" y="287.18" width="6.2" height="2.1" fill="#2a2a2a"/>
<rect x="40.40" y="287.78" width="0.8" height="0.9" fill="#777"/>
<rect x="42.40" y="287.78" width="0.8" height="0.9" fill="#777"/>
<rect x="44.40" y="287.78" width="0.8" height="0.9" fill="#777"/>
<text x="46.10" y="288.18" class="lg">= -34 ± 18</text>
<text x="37.10" y="292.08" class="lg">P</text>
<rect x="39.60" y="291.38" width="6.2" height="2.1" fill="#2a2a2a"/>
<rect x="40.40" y="291.98" width="0.8" height="0.9" fill="#777"/>
<rect x="42.40" y="291.98" width="0.8" height="0.9" fill="#777"/>
<rect x="44.40" y="291.98" width="0.8" height="0.9" fill="#777"/>
<text x="46.10" y="292.38" class="lg">= -38 ± 13</text>
<text x="37.10" y="296.28" class="lg">T</text>
<rect x="39.60" y="295.58" width="6.2" height="2.1" fill="#2a2a2a"/>
<rect x="40.40" y="296.18" width="0.8" height="0.9" fill="#777"/>
<rect x="42.40" y="296.18" width="0.8" height="0.9" fill="#777"/>
<rect x="44.40" y="296.18" width="0.8" height="0.9" fill="#777"/>
<text x="46.10" y="296.58" class="lg">= 5 ± 1</text>
<text x="37.10" y="300.48" class="lg">T</text>
<rect x="39.60" y="299.78" width="6.2" height="2.1" fill="#2a2a2a"/>
<rect x="40.40" y="300.38" width="0.8" height="0.9" fill="#777"/>
<rect x="42.40" y="300.38" width="0.8" height="0.9" fill="#777"/>
<rect x="44.40" y="300.38" width="0.8" height="0.9" fill="#777"/>
<text x="46.10" y="300.78" class="lg">= 5 ± 1</text>
<ellipse cx="257.61" cy="343.12" rx="25.19" ry="10.39" transform="rotate(59.12 257.61 343.12)" fill="none" stroke="#4a4a4a" stroke-width="0.85"/>
<ellipse cx="261.62" cy="349.94" rx="28.89" ry="15.15" transform="rotate(54.3 261.62 349.94)" fill="none" stroke="#4f4f4f" stroke-width="0.85" stroke-dasharray="2.5 1.3"/>
<rect x="253.11" y="323.41" width="2.38" height="2.38" rx="0.5" fill="#22dd22" stroke="#222" stroke-width="0.35"/>
<rect x="242.30" y="326.50" width="2.21" height="2.21" rx="0.5" fill="#1f5f9f" stroke="#222" stroke-width="0.35"/>
<rect x="259.89" y="327.39" width="2.21" height="2.21" rx="0.5" fill="#c0b000" stroke="#222" stroke-width="0.35"/>
<rect x="243.41" y="332.21" width="2.38" height="2.38" rx="0.5" fill="#1a1aff" stroke="#222" stroke-width="0.35"/>
<rect x="247.59" y="334.39" width="2.21" height="2.21" rx="0.5" fill="#808080" stroke="#222" stroke-width="0.35"/>
<rect x="249.71" y="335.61" width="2.38" height="2.38" rx="0.5" fill="#f0f000" stroke="#222" stroke-width="0.35"/>
<rect x="258.50" y="337.19" width="2.21" height="2.21" rx="0.5" fill="#1f9a1f" stroke="#222" stroke-width="0.35"/>
<rect x="253.61" y="341.11" width="2.38" height="2.38" rx="0.5" fill="#000" stroke="#222" stroke-width="0.35"/>
<rect x="255.81" y="343.21" width="2.38" height="2.38" rx="0.5" fill="#e00000" stroke="#222" stroke-width="0.35"/>
<rect x="252.81" y="346.41" width="2.38" height="2.38" rx="0.5" fill="#000" stroke="#222" stroke-width="0.35"/>
<rect x="248.80" y="348.79" width="2.21" height="2.21" rx="0.5" fill="#555555" stroke="#222" stroke-width="0.35"/>
<rect x="271.01" y="349.11" width="2.38" height="2.38" rx="0.5" fill="#e000e0" stroke="#222" stroke-width="0.35"/>
<rect x="285.29" y="353.29" width="2.21" height="2.21" rx="0.5" fill="#20a0b0" stroke="#222" stroke-width="0.35"/>
<rect x="276.51" y="359.01" width="2.38" height="2.38" rx="0.5" fill="#00e0f0" stroke="#222" stroke-width="0.35"/>
<rect x="275.89" y="361.69" width="2.21" height="2.21" rx="0.5" fill="#e000e0" stroke="#222" stroke-width="0.35"/>
<rect x="257.09" y="363.19" width="2.21" height="2.21" rx="0.5" fill="#a00000" stroke="#222" stroke-width="0.35"/>
<rect x="261.69" y="367.29" width="2.21" height="2.21" rx="0.5" fill="#1f5f9f" stroke="#222" stroke-width="0.35"/>
<rect x="270.50" y="372.59" width="2.21" height="2.21" rx="0.5" fill="#1a1a8a" stroke="#222" stroke-width="0.35"/>
<text x="199.40" y="287.88" class="lg">P</text>
<rect x="201.90" y="287.18" width="6.2" height="2.1" fill="#2a2a2a"/>
<rect x="202.70" y="287.78" width="0.8" height="0.9" fill="#777"/>
<rect x="204.70" y="287.78" width="0.8" height="0.9" fill="#777"/>
<rect x="206.70" y="287.78" width="0.8" height="0.9" fill="#777"/>
<text x="208.40" y="288.18" class="lg">= -36 ± 19</text>
<text x="199.40" y="292.08" class="lg">P</text>
<rect x="201.90" y="291.38" width="6.2" height="2.1" fill="#2a2a2a"/>
<rect x="202.70" y="291.98" width="0.8" height="0.9" fill="#777"/>
<rect x="204.70" y="291.98" width="0.8" height="0.9" fill="#777"/>
<rect x="206.70" y="291.98" width="0.8" height="0.9" fill="#777"/>
<text x="208.40" y="292.38" class="lg">= -38 ± 16</text>
<text x="199.40" y="296.28" class="lg">T</text>
<rect x="201.90" y="295.58" width="6.2" height="2.1" fill="#2a2a2a"/>
<rect x="202.70" y="296.18" width="0.8" height="0.9" fill="#777"/>
<rect x="204.70" y="296.18" width="0.8" height="0.9" fill="#777"/>
<rect x="206.70" y="296.18" width="0.8" height="0.9" fill="#777"/>
<text x="208.40" y="296.58" class="lg">= 6 ± 1</text>
<text x="199.40" y="300.48" class="lg">T</text>
<rect x="201.90" y="299.78" width="6.2" height="2.1" fill="#2a2a2a"/>
<rect x="202.70" y="300.38" width="0.8" height="0.9" fill="#777"/>
<rect x="204.70" y="300.38" width="0.8" height="0.9" fill="#777"/>
<rect x="206.70" y="300.38" width="0.8" height="0.9" fill="#777"/>
<text x="208.40" y="300.78" class="lg">= 5 ± 1</text>
<ellipse cx="73.3" cy="449.7" rx="30.4" ry="11.4" transform="rotate(21.86 73.3 449.7)" fill="none" stroke="#4a4a4a" stroke-width="0.85"/>
<ellipse cx="103.28" cy="452.87" rx="50.62" ry="20.83" transform="rotate(34.15 103.28 452.87)" fill="none" stroke="#4f4f4f" stroke-width="0.85" stroke-dasharray="2.5 1.3"/>
<circle cx="54.2" cy="437.9" r="1.6" fill="#1a1aff" stroke="#222" stroke-width="0.3"/>
<circle cx="85.6" cy="430.6" r="1.3" fill="#1a1a8a" stroke="#222" stroke-width="0.3"/>
<circle cx="63.3" cy="442.4" r="1.8" fill="#000" stroke="#222" stroke-width="0.3"/>
<circle cx="83.4" cy="445.5" r="1.4" fill="#000" stroke="#222" stroke-width="0.3"/>
<circle cx="88.5" cy="447.9" r="1.6" fill="#22dd22" stroke="#222" stroke-width="0.3"/>
<circle cx="106.0" cy="436.4" r="1.4" fill="#1f9a1f" stroke="#222" stroke-width="0.3"/>
<circle cx="63.3" cy="457.8" r="1.6" fill="#e00000" stroke="#222" stroke-width="0.3"/>
<circle cx="98.5" cy="463.4" r="1.6" fill="#e000e0" stroke="#222" stroke-width="0.3"/>
<circle cx="92.8" cy="468.4" r="1.3" fill="#a00000" stroke="#222" stroke-width="0.3"/>
<circle cx="152.4" cy="483.7" r="1.3" fill="#9a009a" stroke="#222" stroke-width="0.3"/>
<text x="37.10" y="412.80" class="lg">P</text>
<rect x="39.60" y="412.10" width="6.2" height="2.1" fill="#2a2a2a"/>
<rect x="40.40" y="412.70" width="0.8" height="0.9" fill="#777"/>
<rect x="42.40" y="412.70" width="0.8" height="0.9" fill="#777"/>
<rect x="44.40" y="412.70" width="0.8" height="0.9" fill="#777"/>
<text x="46.10" y="413.10" class="lg">= -11 ± 26</text>
<text x="37.10" y="417.00" class="lg">P</text>
<rect x="39.60" y="416.30" width="6.2" height="2.1" fill="#2a2a2a"/>
<rect x="40.40" y="416.90" width="0.8" height="0.9" fill="#777"/>
<rect x="42.40" y="416.90" width="0.8" height="0.9" fill="#777"/>
<rect x="44.40" y="416.90" width="0.8" height="0.9" fill="#777"/>
<text x="46.10" y="417.30" class="lg">= -8 ± 12</text>
<text x="37.10" y="421.20" class="lg">T</text>
<rect x="39.60" y="420.50" width="6.2" height="2.1" fill="#2a2a2a"/>
<rect x="40.40" y="421.10" width="0.8" height="0.9" fill="#777"/>
<rect x="42.40" y="421.10" width="0.8" height="0.9" fill="#777"/>
<rect x="44.40" y="421.10" width="0.8" height="0.9" fill="#777"/>
<text x="46.10" y="421.50" class="lg">= 5 ± 2</text>
<text x="37.10" y="425.40" class="lg">T</text>
<rect x="39.60" y="424.70" width="6.2" height="2.1" fill="#2a2a2a"/>
<rect x="40.40" y="425.30" width="0.8" height="0.9" fill="#777"/>
<rect x="42.40" y="425.30" width="0.8" height="0.9" fill="#777"/>
<rect x="44.40" y="425.30" width="0.8" height="0.9" fill="#777"/>
<text x="46.10" y="425.70" class="lg">= 4 ± 1</text>
<ellipse cx="248.12" cy="446.24" rx="21.64" ry="10.95" transform="rotate(5.32 248.12 446.24)" fill="none" stroke="#4a4a4a" stroke-width="0.85"/>
<ellipse cx="264.8" cy="454.6" rx="42.8" ry="18.0" transform="rotate(27.2 264.8 454.6)" fill="none" stroke="#4f4f4f" stroke-width="0.85" stroke-dasharray="2.5 1.3"/>
<rect x="246.59" y="429.50" width="2.21" height="2.21" rx="0.5" fill="#1a1a8a" stroke="#222" stroke-width="0.35"/>
<rect x="251.91" y="433.21" width="2.38" height="2.38" rx="0.5" fill="#22dd22" stroke="#222" stroke-width="0.35"/>
<rect x="266.59" y="435.09" width="2.21" height="2.21" rx="0.5" fill="#1f9a1f" stroke="#222" stroke-width="0.35"/>
<rect x="231.01" y="437.31" width="2.38" height="2.38" rx="0.5" fill="#1a1aff" stroke="#222" stroke-width="0.35"/>
<rect x="257.59" y="442.69" width="2.21" height="2.21" rx="0.5" fill="#1f5f9f" stroke="#222" stroke-width="0.35"/>
<rect x="240.81" y="442.71" width="2.38" height="2.38" rx="0.5" fill="#f0f000" stroke="#222" stroke-width="0.35"/>
<rect x="244.21" y="443.91" width="2.38" height="2.38" rx="0.5" fill="#000" stroke="#222" stroke-width="0.35"/>
<rect x="261.31" y="446.41" width="2.38" height="2.38" rx="0.5" fill="#e000e0" stroke="#222" stroke-width="0.35"/>
<rect x="263.50" y="447.09" width="2.21" height="2.21" rx="0.5" fill="#c0b000" stroke="#222" stroke-width="0.35"/>
<rect x="239.31" y="448.01" width="2.38" height="2.38" rx="0.5" fill="#e00000" stroke="#222" stroke-width="0.35"/>
<rect x="242.41" y="451.21" width="2.38" height="2.38" rx="0.5" fill="#000" stroke="#222" stroke-width="0.35"/>
<rect x="229.20" y="450.69" width="2.21" height="2.21" rx="0.5" fill="#808080" stroke="#222" stroke-width="0.35"/>
<rect x="225.09" y="452.59" width="2.21" height="2.21" rx="0.5" fill="#555555" stroke="#222" stroke-width="0.35"/>
<rect x="271.21" y="454.51" width="2.38" height="2.38" rx="0.5" fill="#00e0f0" stroke="#222" stroke-width="0.35"/>
<rect x="285.50" y="454.89" width="2.21" height="2.21" rx="0.5" fill="#20a0b0" stroke="#222" stroke-width="0.35"/>
<rect x="254.00" y="467.19" width="2.21" height="2.21" rx="0.5" fill="#a00000" stroke="#222" stroke-width="0.35"/>
<rect x="278.50" y="468.00" width="2.21" height="2.21" rx="0.5" fill="#1a1a8a" stroke="#222" stroke-width="0.35"/>
<rect x="312.69" y="482.00" width="2.21" height="2.21" rx="0.5" fill="#9a009a" stroke="#222" stroke-width="0.35"/>
<text x="199.40" y="412.80" class="lg">P</text>
<rect x="201.90" y="412.10" width="6.2" height="2.1" fill="#2a2a2a"/>
<rect x="202.70" y="412.70" width="0.8" height="0.9" fill="#777"/>
<rect x="204.70" y="412.70" width="0.8" height="0.9" fill="#777"/>
<rect x="206.70" y="412.70" width="0.8" height="0.9" fill="#777"/>
<text x="208.40" y="413.10" class="lg">= -13 ± 19</text>
<text x="199.40" y="417.00" class="lg">P</text>
<rect x="201.90" y="416.30" width="6.2" height="2.1" fill="#2a2a2a"/>
<rect x="202.70" y="416.90" width="0.8" height="0.9" fill="#777"/>
<rect x="204.70" y="416.90" width="0.8" height="0.9" fill="#777"/>
<rect x="206.70" y="416.90" width="0.8" height="0.9" fill="#777"/>
<text x="208.40" y="417.30" class="lg">= -4 ± 8</text>
<text x="199.40" y="421.20" class="lg">T</text>
<rect x="201.90" y="420.50" width="6.2" height="2.1" fill="#2a2a2a"/>
<rect x="202.70" y="421.10" width="0.8" height="0.9" fill="#777"/>
<rect x="204.70" y="421.10" width="0.8" height="0.9" fill="#777"/>
<rect x="206.70" y="421.10" width="0.8" height="0.9" fill="#777"/>
<text x="208.40" y="421.50" class="lg">= 6 ± 2</text>
<text x="199.40" y="425.40" class="lg">T</text>
<rect x="201.90" y="424.70" width="6.2" height="2.1" fill="#2a2a2a"/>
<rect x="202.70" y="425.30" width="0.8" height="0.9" fill="#777"/>
<rect x="204.70" y="425.30" width="0.8" height="0.9" fill="#777"/>
<rect x="206.70" y="425.30" width="0.8" height="0.9" fill="#777"/>
<text x="208.40" y="425.70" class="lg">= 5 ± 1</text>
<rect x="296.6" y="283.88" width="29" height="60" fill="#fff"/>
<line x1="297.3" y1="283.38" x2="297.3" y2="344.38" stroke="#ececec" stroke-width="0.6"/>
<line x1="311.49" y1="283.38" x2="311.49" y2="344.38" stroke="#ececec" stroke-width="0.6"/>
<line x1="325.68" y1="283.38" x2="325.68" y2="344.38" stroke="#ececec" stroke-width="0.6"/>
<circle cx="299.6" cy="286.20" r="1.65" fill="#000"/>
<text x="305.6" y="287.30" class="lg3">EC-EARTH</text>
<circle cx="299.6" cy="291.80" r="1.65" fill="#0000ff"/>
<text x="305.6" y="292.90" class="lg3">CNRM-CM5</text>
<circle cx="299.6" cy="297.40" r="1.65" fill="#ff0000"/>
<text x="305.6" y="298.50" class="lg3">MPI-ESM-LR</text>
<circle cx="299.6" cy="303.00" r="1.65" fill="#00ff00"/>
<text x="305.6" y="304.10" class="lg3">MIROC5</text>
<circle cx="299.6" cy="308.60" r="1.65" fill="#ff00ff"/>
<text x="305.6" y="309.70" class="lg3">HadGEM2-ES</text>
<circle cx="299.6" cy="314.20" r="1.65" fill="#00ffff"/>
<text x="305.6" y="315.30" class="lg3">CanESM2</text>
<circle cx="299.6" cy="319.80" r="1.65" fill="#808080"/>
<text x="305.6" y="320.90" class="lg3">GFDL-ESM2M</text>
<circle cx="299.6" cy="325.40" r="1.65" fill="#ffff00"/>
<text x="305.6" y="326.50" class="lg3">NorESM1-M</text>
<circle cx="299.6" cy="331.00" r="1.65" fill="#1f5f9f"/>
<text x="305.6" y="332.10" class="lg3">IPSL-CM5A-MR</text>
<circle cx="299.6" cy="336.60" r="1.6" fill="#fff" stroke="#222" stroke-width="0.35"/>
<text x="305.6" y="337.70" class="lg3">CCLM</text>
<rect x="298.2" y="340.80" width="2.8" height="2.8" rx="0.4" fill="#fff" stroke="#666" stroke-width="0.35"/>
<text x="305.6" y="343.30" class="lg3">RCA</text>
<text x="88.7" y="10.9" text-anchor="middle" class="t12">CCLM</text>
<text x="252" y="10.9" text-anchor="middle" class="t12">RCA</text>
<text x="177" y="23" text-anchor="middle" class="t10">Scandinavia</text>
<text x="177" y="148" text-anchor="middle" class="t10">Alps</text>
<text x="177" y="274" text-anchor="middle" class="t10">Iberian Peninsula</text>
<text x="177" y="401" text-anchor="middle" class="t10">Eastern Europe</text>
<text transform="translate(11.2 276) rotate(-90)" text-anchor="middle" class="t12">Precipitation change [%]</text>
<text x="183.8" y="533" text-anchor="middle" class="t12">Temperature change [&#186;C]</text>
</svg></body></html>
